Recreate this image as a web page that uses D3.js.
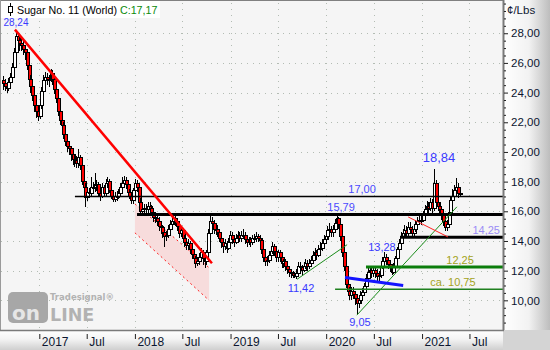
<!DOCTYPE html>
<html>
<head>
<meta charset="utf-8">
<script src="https://cdn.jsdelivr.net/npm/d3@7"></script>
<style>
  html, body { margin: 0; padding: 0; background: #fff; }
  svg { display: block; font-family: "Liberation Sans", Arial, sans-serif; }
</style>
</head>
<body>
<div id="chart"></div>
<script>
// weekly candles, first one starts this week
const firstWeek = "2016-08-15";

const opens = [
  24.8, 24.6, 24.4, 24.3, 24.7, 25.0, 25.7, 26.7, 27.8, 27.5,
  27.3, 27.2, 26.9, 26.7, 25.8, 24.9, 24.4, 23.8, 23.1, 22.7,
  22.4, 23.1, 24.1, 24.8, 25.0, 24.9, 24.9, 25.3, 24.9, 24.2,
  23.6, 22.7, 22.1, 21.8, 21.2, 20.7, 20.4, 20.2, 19.8, 19.5,
  19.4, 19.2, 19.6, 19.1, 18.0, 17.6, 16.9, 17.3, 17.2, 17.6,
  17.6, 17.8, 17.8, 17.2, 17.0, 17.6, 17.2, 17.9, 18.0, 17.4,
  17.0, 16.8, 17.0, 17.0, 17.2, 17.6, 17.9, 18.1, 17.8, 17.3,
  17.0, 16.7, 17.4, 17.9, 17.6, 16.6, 16.0, 16.1, 16.2, 16.1,
  16.3, 16.2, 15.9, 15.6, 15.5, 15.3, 15.0, 14.9, 14.6, 14.3,
  14.4, 14.8, 15.1, 15.3, 15.5, 15.3, 15.0, 14.5, 14.7, 14.2,
  13.9, 13.7, 13.8, 13.4, 13.1, 12.8, 12.5, 12.6, 12.9, 13.2,
  12.8, 12.6, 13.2, 14.5, 15.3, 15.2, 14.8, 14.8, 14.6, 14.2,
  13.9, 13.6, 13.8, 13.5, 13.9, 14.4, 14.1, 13.9, 14.2, 14.4,
  14.2, 14.4, 14.4, 14.1, 13.9, 14.1, 13.9, 14.2, 14.2, 14.3,
  14.2, 14.0, 13.4, 12.9, 12.6, 12.7, 13.0, 13.3, 13.6, 13.3,
  12.9, 13.2, 12.9, 12.5, 12.6, 12.3, 12.1, 11.9, 11.8, 11.7,
  11.6, 11.8, 12.3, 12.2, 12.0, 12.3, 12.5, 12.3, 12.5, 12.7,
  13.0, 13.2, 13.0, 13.4, 13.5, 13.8, 14.1, 14.3, 14.7, 14.8,
  14.6, 14.8, 15.2, 15.5, 15.1, 14.3, 13.2, 12.3, 11.1, 10.6,
  10.3, 10.6, 10.4, 10.1, 9.8, 10.0, 10.3, 10.5, 10.9, 11.5,
  11.9, 12.0, 11.8, 12.0, 11.8, 11.6, 11.7, 12.3, 12.6, 12.9,
  12.7, 12.4, 12.2, 11.9, 12.3, 12.8, 13.4, 13.8, 14.3, 14.5,
  14.7, 14.5, 14.9, 14.8, 14.5, 14.8, 15.1, 15.3, 15.4, 15.4,
  15.7, 16.1, 16.3, 16.2, 16.6, 16.2, 17.9, 16.6, 16.3, 16.1,
  15.8, 15.3, 14.9, 15.1, 15.9, 16.7, 17.0, 17.4, 17.6, 17.2
];

const highs = [
  25.1, 24.9, 24.7, 25.0, 25.3, 26.0, 27.0, 28.24, 27.9, 27.8,
  27.7, 27.5, 27.2, 26.9, 26.0, 25.2, 24.7, 24.0, 23.4, 23.0,
  23.4, 24.4, 25.2, 25.4, 25.3, 25.2, 25.6, 25.5, 25.1, 24.4,
  23.9, 23.0, 22.4, 22.0, 21.5, 21.0, 20.7, 20.4, 20.0, 19.8,
  19.7, 20.2, 19.8, 19.3, 18.3, 17.9, 17.6, 17.6, 18.3, 18.0,
  18.6, 18.1, 18.0, 17.5, 17.9, 17.8, 18.2, 18.3, 18.2, 17.6,
  17.3, 17.3, 17.4, 17.5, 17.9, 18.3, 18.4, 18.3, 17.9, 17.5,
  17.2, 17.6, 18.2, 18.1, 17.7, 16.9, 16.6, 16.5, 16.5, 16.6,
  16.6, 16.4, 16.1, 15.8, 15.8, 15.6, 15.3, 15.1, 14.8, 14.7,
  15.1, 15.4, 15.6, 15.9, 15.7, 15.5, 15.2, 15.0, 14.9, 14.4,
  14.2, 14.1, 14.0, 13.6, 13.3, 13.0, 12.9, 13.2, 13.5, 13.4,
  13.1, 13.4, 14.8, 15.8, 15.6, 15.4, 15.2, 15.1, 14.8, 14.5,
  14.2, 14.1, 14.0, 14.2, 14.7, 14.6, 14.3, 14.5, 14.7, 14.6,
  14.7, 14.8, 14.6, 14.3, 14.3, 14.3, 14.4, 14.5, 14.6, 14.5,
  14.4, 14.2, 13.6, 13.1, 13.0, 13.3, 13.6, 13.9, 13.8, 13.5,
  13.4, 13.4, 13.1, 12.8, 12.8, 12.5, 12.3, 12.1, 12.0, 11.9,
  12.1, 12.6, 12.6, 12.4, 12.6, 12.8, 12.7, 12.8, 13.0, 13.3,
  13.5, 13.4, 13.7, 13.9, 14.1, 14.4, 14.6, 15.0, 15.2, 15.0,
  15.1, 15.5, 15.79, 15.6, 15.3, 14.5, 13.4, 12.5, 11.4, 10.9,
  10.9, 10.9, 10.6, 10.3, 10.3, 10.6, 10.8, 11.2, 11.8, 12.2,
  12.3, 12.2, 12.3, 12.3, 12.1, 12.0, 12.6, 12.9, 13.28, 13.1,
  12.9, 12.6, 12.4, 12.5, 13.0, 13.6, 14.1, 14.6, 14.8, 15.1,
  15.0, 15.3, 15.3, 15.0, 15.1, 15.4, 15.6, 15.7, 15.7, 16.0,
  16.4, 16.7, 16.6, 16.9, 16.8, 18.84, 18.1, 16.9, 16.6, 16.3,
  16.0, 15.5, 15.4, 16.2, 17.0, 17.5, 17.8, 18.25, 17.9, 17.5
];

const lows = [
  24.2, 24.1, 24.0, 24.1, 24.5, 24.8, 25.5, 26.5, 27.0, 26.8,
  26.8, 26.5, 26.2, 25.5, 24.6, 24.0, 23.4, 22.7, 22.3, 22.1,
  22.2, 22.9, 23.8, 24.5, 24.5, 24.4, 24.7, 24.5, 23.9, 23.3,
  22.4, 21.8, 21.4, 20.9, 20.4, 20.0, 19.8, 19.4, 19.1, 19.0,
  18.9, 18.9, 18.8, 17.8, 17.2, 16.3, 16.7, 16.9, 17.0, 17.2,
  17.3, 17.4, 17.0, 16.7, 16.9, 17.0, 17.0, 17.6, 17.2, 16.8,
  16.6, 16.6, 16.7, 16.8, 17.0, 17.4, 17.6, 17.5, 17.1, 16.8,
  16.5, 16.5, 17.2, 17.3, 16.4, 15.8, 15.7, 15.9, 15.8, 15.9,
  15.9, 15.7, 15.3, 15.2, 15.0, 14.7, 14.5, 14.2, 13.6, 14.0,
  14.2, 14.5, 14.9, 15.1, 15.0, 14.7, 14.2, 14.3, 13.9, 13.6,
  13.4, 13.4, 13.1, 12.8, 12.5, 12.2, 12.3, 12.4, 12.7, 12.4,
  12.2, 12.4, 13.0, 14.2, 14.9, 14.5, 14.4, 14.3, 13.9, 13.5,
  13.2, 13.4, 13.2, 13.4, 13.8, 13.8, 13.6, 13.8, 14.0, 13.9,
  13.9, 14.1, 13.8, 13.6, 13.7, 13.6, 13.7, 13.9, 13.9, 13.9,
  13.8, 13.1, 12.6, 12.3, 12.3, 12.5, 12.8, 13.1, 13.0, 12.6,
  12.6, 12.6, 12.2, 12.2, 12.0, 11.8, 11.6, 11.5, 11.5, 11.5,
  11.42, 11.6, 11.9, 11.7, 11.9, 12.1, 12.0, 12.1, 12.3, 12.5,
  12.8, 12.7, 12.9, 13.2, 13.3, 13.6, 13.9, 14.1, 14.4, 14.3,
  14.3, 14.6, 15.0, 14.8, 14.0, 12.9, 12.0, 10.8, 10.3, 10.0,
  10.0, 10.1, 9.7, 9.05, 9.5, 9.8, 10.1, 10.3, 10.8, 11.3,
  11.6, 11.5, 11.6, 11.5, 11.3, 11.3, 11.5, 12.1, 12.4, 12.4,
  12.1, 11.9, 11.7, 11.8, 12.1, 12.6, 13.2, 13.6, 14.1, 14.3,
  14.2, 14.3, 14.5, 14.3, 14.3, 14.6, 14.9, 15.1, 15.1, 15.3,
  15.5, 15.9, 15.9, 16.0, 15.9, 16.0, 16.4, 16.0, 15.8, 15.4,
  15.0, 14.7, 14.7, 14.9, 15.7, 16.5, 16.8, 17.1, 16.9, 17.0
];

const closes = [
  24.6, 24.4, 24.3, 24.7, 25.0, 25.7, 26.7, 27.8, 27.5, 27.3,
  27.2, 26.9, 26.7, 25.8, 24.9, 24.4, 23.8, 23.1, 22.7, 22.4,
  23.1, 24.1, 24.8, 25.0, 24.9, 24.9, 25.3, 24.9, 24.2, 23.6,
  22.7, 22.1, 21.8, 21.2, 20.7, 20.4, 20.2, 19.8, 19.5, 19.4,
  19.2, 19.6, 19.1, 18.0, 17.6, 16.9, 17.3, 17.2, 17.6, 17.6,
  17.8, 17.8, 17.2, 17.0, 17.6, 17.2, 17.9, 18.0, 17.4, 17.0,
  16.8, 17.0, 17.0, 17.2, 17.6, 17.9, 18.1, 17.8, 17.3, 17.0,
  16.7, 17.4, 17.9, 17.6, 16.6, 16.0, 16.1, 16.2, 16.1, 16.3,
  16.2, 15.9, 15.6, 15.5, 15.3, 15.0, 14.9, 14.6, 14.3, 14.4,
  14.8, 15.1, 15.3, 15.5, 15.3, 15.0, 14.5, 14.7, 14.2, 13.9,
  13.7, 13.8, 13.4, 13.1, 12.8, 12.5, 12.6, 12.9, 13.2, 12.8,
  12.6, 13.2, 14.5, 15.3, 15.2, 14.8, 14.8, 14.6, 14.2, 13.9,
  13.6, 13.8, 13.5, 13.9, 14.4, 14.1, 13.9, 14.2, 14.4, 14.2,
  14.4, 14.4, 14.1, 13.9, 14.1, 13.9, 14.2, 14.2, 14.3, 14.2,
  14.0, 13.4, 12.9, 12.6, 12.7, 13.0, 13.3, 13.6, 13.3, 12.9,
  13.2, 12.9, 12.5, 12.6, 12.3, 12.1, 11.9, 11.8, 11.7, 11.6,
  11.8, 12.3, 12.2, 12.0, 12.3, 12.5, 12.3, 12.5, 12.7, 13.0,
  13.2, 13.0, 13.4, 13.5, 13.8, 14.1, 14.3, 14.7, 14.8, 14.6,
  14.8, 15.2, 15.5, 15.1, 14.3, 13.2, 12.3, 11.1, 10.6, 10.3,
  10.6, 10.4, 10.1, 9.8, 10.0, 10.3, 10.5, 10.9, 11.5, 11.9,
  12.0, 11.8, 12.0, 11.8, 11.6, 11.7, 12.3, 12.6, 12.9, 12.7,
  12.4, 12.2, 11.9, 12.3, 12.8, 13.4, 13.8, 14.3, 14.5, 14.7,
  14.5, 14.9, 14.8, 14.5, 14.8, 15.1, 15.3, 15.4, 15.4, 15.7,
  16.1, 16.3, 16.2, 16.6, 16.2, 17.9, 16.6, 16.3, 16.1, 15.8,
  15.3, 14.9, 15.1, 15.9, 16.7, 17.0, 17.4, 17.6, 17.2, 17.17
];

// axis ticks
const yTicks = [10, 12, 14, 16, 18, 20, 22, 24, 26, 28];
const xTicks = ["2017-01-01", "2017-07-01", "2018-01-01", "2018-07-01", "2019-01-01",
  "2019-07-01", "2020-01-01", "2020-07-01", "2021-01-01", "2021-07-01"];
const xTickLabels = ["2017", "Jul", "2018", "Jul", "2019", "Jul", "2020", "Jul", "2021", "Jul"];

// horizontal support / resistance levels
const levelValues = [17.00, 15.79, 14.25, 12.25, 10.75];
const levelStarts = ["2017-05-17", "2018-01-09", "2020-10-09", "2020-06-01", "2020-02-04"];

// trend lines: start date, start value, end date, end value
const redTrend = ["2016-09-30", 28.24, "2018-10-22", 12.5];
const greenTrend1 = ["2019-09-12", 11.42, "2020-03-21", 13.75];
const greenTrend2 = ["2020-04-27", 9.0, "2021-05-14", 16.3];
const blueTrend = ["2020-03-13", 11.54, "2020-10-21", 11.0];
const redThin = ["2020-11-09", 15.62, "2021-04-10", 14.27];

// falling channel (shaded)
const channelDates = ["2018-01-01", "2018-10-11"];
const channelUpper = [16.5, 12.2];
const channelLower = [14.55, 10.0];

// price labels
const labelTexts = ["28,24", "18,84", "11,42", "9,05", "13,28", "17,00", "15,79", "14,25", "12,25", "ca. 10,75"];
const labelDates = ["2016-10-04", "2021-03-07", "2019-09-27", "2020-05-09", "2020-08-01",
  "2020-05-17", "2020-02-27", "2021-09-03", "2021-05-26", "2021-04-29"];
const labelValues = [28.24, 18.84, 11.42, 9.05, 13.28, 17.00, 15.79, 14.25, 12.25, 10.75];

const title = "Sugar No. 11 (World) ";
const lastQuote = "C:17,17";
const unit = "¢/Lbs";

//----------------------------------------------------------------
const W = 550, H = 350;
const plotR = 503, plotB = 330;
const parse = d3.timeParse("%Y-%m-%d");
const de = d3.formatLocale({decimal: ",", thousands: ".", grouping: [3], currency: ["", ""]});
const fmt = de.format(".2f");

const x = d3.scaleTime()
  .domain([parse("2016-08-04"), parse("2021-11-06")])
  .range([0, plotR]);
const y = d3.scaleLinear()
  .domain([8, 30.24])
  .range([plotB, 0]);

const start = parse(firstWeek);
const candles = closes.map((c, i) => ({
  date: d3.timeWeek.offset(start, i), o: opens[i], h: highs[i], l: lows[i], c: c
}));

const svg = d3.select("#chart").append("svg")
  .attr("width", W).attr("height", H);

const defs = svg.append("defs");
const gRight = defs.append("linearGradient").attr("id", "gRight");
gRight.append("stop").attr("offset", "0%").attr("stop-color", "#ffffff");
gRight.append("stop").attr("offset", "55%").attr("stop-color", "#f2f2f2");
gRight.append("stop").attr("offset", "100%").attr("stop-color", "#bdbdbd");
const gBottom = defs.append("linearGradient").attr("id", "gBottom")
  .attr("x1", 0).attr("y1", 0).attr("x2", 0).attr("y2", 1);
gBottom.append("stop").attr("offset", "0%").attr("stop-color", "#ffffff");
gBottom.append("stop").attr("offset", "45%").attr("stop-color", "#f4f4f4");
gBottom.append("stop").attr("offset", "100%").attr("stop-color", "#cfcfcf");
defs.append("clipPath").attr("id", "clip")
  .append("rect").attr("x", 1).attr("y", 1).attr("width", plotR - 1).attr("height", plotB - 1);

//backgrounds
svg.append("rect").attr("width", W).attr("height", H).attr("fill", "#d4d4d4");
svg.append("rect").attr("x", 0).attr("y", 0).attr("width", plotR).attr("height", plotB).attr("fill", "#f5f5f5");
svg.append("rect").attr("x", plotR).attr("y", 0).attr("width", W - plotR).attr("height", plotB).attr("fill", "url(#gRight)");
svg.append("rect").attr("x", 0).attr("y", plotB).attr("width", plotR).attr("height", H - plotB).attr("fill", "url(#gBottom)");

const plot = svg.append("g").attr("clip-path", "url(#clip)");

//dotted grid
plot.selectAll(".hgrid").data(yTicks).enter().append("line")
  .attr("x1", 1).attr("x2", plotR)
  .attr("y1", d => Math.round(y(d)) + 0.5).attr("y2", d => Math.round(y(d)) + 0.5)
  .attr("stroke", "#b3bcb3").attr("stroke-dasharray", "1,5");
plot.selectAll(".vgrid").data(xTicks).enter().append("line")
  .attr("x1", d => Math.round(x(parse(d))) + 0.5).attr("x2", d => Math.round(x(parse(d))) + 0.5)
  .attr("y1", 3).attr("y2", plotB)
  .attr("stroke", "#b3bcb3").attr("stroke-dasharray", "1,5");

//watermark
const wm = svg.append("g");
wm.append("rect").attr("x", 8).attr("y", 292).attr("width", 40).attr("height", 31).attr("rx", 5)
  .attr("fill", "#a7a7a7");
wm.append("text").attr("x", 12).attr("y", 320).attr("font-family", "DejaVu Sans")
  .attr("font-weight", "bold").attr("font-size", 20).attr("fill", "#e6e6e6").text("on");
wm.append("text").attr("x", 50).attr("y", 321).attr("font-family", "DejaVu Sans")
  .attr("font-weight", "bold").attr("font-size", 17.5).attr("fill", "#b2b2b2").text("LINE");
wm.append("text").attr("x", 50).attr("y", 300).attr("font-family", "DejaVu Sans")
  .attr("font-weight", "bold").attr("font-size", 8.5).attr("fill", "#b2b2b2").text("Tradesignal®");

//shaded channel
const d0 = parse(channelDates[0]), d1 = parse(channelDates[1]);
plot.append("path")
  .attr("d", d3.line()([
    [x(d0), y(channelUpper[0])], [x(d1), y(channelUpper[1])],
    [x(d1), y(channelLower[1])], [x(d0), y(channelLower[0])]
  ]) + "Z")
  .attr("fill", "#f7dcdc");
[channelUpper, channelLower].forEach(v => {
  plot.append("line")
    .attr("x1", x(d0)).attr("y1", y(v[0])).attr("x2", x(d1)).attr("y2", y(v[1]))
    .attr("stroke", "#ff2020").attr("stroke-width", 1).attr("stroke-dasharray", "2,3");
});

//candles
const cg = plot.selectAll(".candle").data(candles).enter().append("g")
  .attr("shape-rendering", "crispEdges");
cg.append("line")
  .attr("x1", d => Math.round(x(d.date)) + 0.5).attr("x2", d => Math.round(x(d.date)) + 0.5)
  .attr("y1", d => y(d.h)).attr("y2", d => y(d.l))
  .attr("stroke", "#000");
cg.append("rect")
  .attr("x", d => Math.round(x(d.date)) - 1)
  .attr("width", 3)
  .attr("y", d => y(Math.max(d.o, d.c)))
  .attr("height", d => Math.max(1, Math.abs(y(d.o) - y(d.c))))
  .attr("fill", d => d.c >= d.o ? "#ffffff" : "#ff0000")
  .attr("stroke", "#000").attr("stroke-width", 1);

//level lines
const levelStyle = [
  {w: 1.5, c: "#000"}, {w: 3, c: "#000"}, {w: 3, c: "#000"}, {w: 3, c: "#0b7d0b"}, {w: 1.5, c: "#1f801f"}
];
levelValues.forEach((v, i) => {
  plot.append("line")
    .attr("x1", x(parse(levelStarts[i]))).attr("x2", plotR)
    .attr("y1", y(v)).attr("y2", y(v))
    .attr("stroke", levelStyle[i].c).attr("stroke-width", levelStyle[i].w);
});

//trend lines
function trend(t, color, width) {
  plot.append("line")
    .attr("x1", x(parse(t[0]))).attr("y1", y(t[1]))
    .attr("x2", x(parse(t[2]))).attr("y2", y(t[3]))
    .attr("stroke", color).attr("stroke-width", width);
}
trend(redTrend, "#ff0000", 2.5);
trend(greenTrend1, "#1a8c1a", 1);
trend(greenTrend2, "#1a8c1a", 1);
trend(blueTrend, "#1414ff", 3);
trend(redThin, "#ff2020", 1);

//price labels
const labelStyle = [
  {c: "#3a3aff", s: 10, dy: -4}, {c: "#3a3aff", s: 13, dy: -7}, {c: "#3a3aff", s: 11, dy: 13},
  {c: "#3a3aff", s: 11, dy: 12}, {c: "#3a3aff", s: 11, dy: -1}, {c: "#4a4aff", s: 11, dy: -3},
  {c: "#4a4aff", s: 11, dy: -3}, {c: "#9a8cf5", s: 11, dy: -3}, {c: "#a3a31c", s: 11, dy: -3},
  {c: "#a3a31c", s: 11, dy: -3}
];
labelTexts.forEach((t, i) => {
  svg.append("text")
    .attr("x", x(parse(labelDates[i]))).attr("y", y(labelValues[i]) + labelStyle[i].dy)
    .attr("text-anchor", "middle")
    .attr("font-size", labelStyle[i].s).attr("fill", labelStyle[i].c)
    .text(t);
});

//title box
svg.append("rect").attr("x", 1).attr("y", 1).attr("width", 159).attr("height", 17).attr("fill", "#fff");
svg.append("line").attr("x1", 10.5).attr("x2", 10.5).attr("y1", 3).attr("y2", 16).attr("stroke", "#000");
svg.append("rect").attr("x", 8.5).attr("y", 6.5).attr("width", 4).attr("height", 6)
  .attr("fill", "#fff").attr("stroke", "#000");
const tt = svg.append("text").attr("x", 17).attr("y", 13.5).attr("font-size", 10.7);
tt.append("tspan").attr("fill", "#000").text(title);
tt.append("tspan").attr("fill", "#0a8a0a").text(lastQuote);

//frame
svg.append("line").attr("x1", 0).attr("x2", plotR).attr("y1", 0.5).attr("y2", 0.5).attr("stroke", "#808080");
svg.append("line").attr("x1", 0.5).attr("x2", 0.5).attr("y1", 0).attr("y2", plotB).attr("stroke", "#9a9a9a");
svg.append("line").attr("x1", plotR + 0.5).attr("x2", plotR + 0.5).attr("y1", 0).attr("y2", plotB)
  .attr("stroke", "#7a7a7a").attr("stroke-width", 2);
svg.append("line").attr("x1", 0).attr("x2", plotR + 1).attr("y1", plotB + 0.5).attr("y2", plotB + 0.5)
  .attr("stroke", "#7a7a7a").attr("stroke-width", 1.5);

//right axis
const minor = d3.range(8.5, 30.1, 0.5).filter(v => !yTicks.includes(v));
svg.append("g").attr("transform", "translate(" + (plotR + 1) + ",0)")
  .call(d3.axisRight(y).tickValues(minor).tickSize(2).tickFormat(""))
  .call(g => g.select(".domain").remove())
  .selectAll("line").attr("stroke", "#202020");
const ya = svg.append("g").attr("transform", "translate(" + (plotR + 1) + ",0)")
  .call(d3.axisRight(y).tickValues(yTicks).tickSize(4).tickPadding(3).tickFormat(fmt));
ya.select(".domain").remove();
ya.selectAll("line").attr("stroke", "#202020");
ya.selectAll("text").attr("font-size", 11.5).attr("fill", "#0c1630")
  .attr("font-family", "Liberation Sans, Arial, sans-serif");
svg.append("text").attr("x", 507).attr("y", 14).attr("font-size", 11.5).attr("fill", "#0c1630").text(unit);

//bottom axis
const xa = svg.append("g").attr("transform", "translate(0," + plotB + ")")
  .call(d3.axisBottom(x).tickValues(xTicks.map(parse)).tickSize(9).tickFormat((d, i) => xTickLabels[i]));
xa.select(".domain").remove();
xa.selectAll("line").attr("y1", 4).attr("y2", 9).attr("stroke", "#202020");
xa.selectAll("text")
  .attr("x", 2).attr("y", 16).attr("dy", 0)
  .attr("text-anchor", "start")
  .attr("font-size", 12).attr("fill", "#0c1630")
  .attr("font-family", "Liberation Sans, Arial, sans-serif");
</script>
</body>
</html>
